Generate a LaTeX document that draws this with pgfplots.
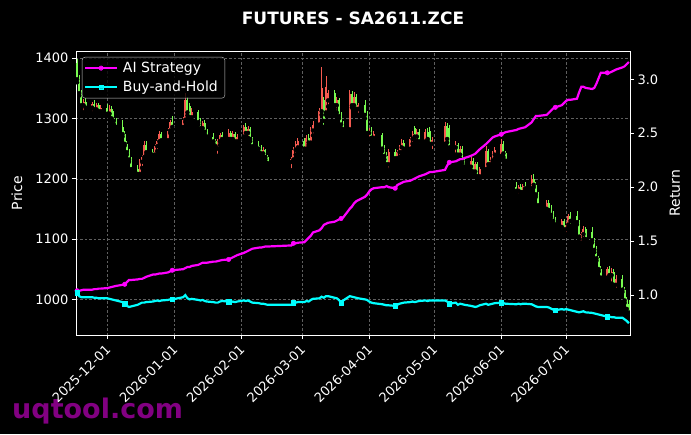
\documentclass[border=0pt]{standalone}
\usepackage{fontspec}
\setmainfont{DejaVu Sans}
\usepackage{pgfplots}
\pgfplotsset{compat=1.18}
\usepackage{pgfplotstable}

\definecolor{upc}{RGB}{245,90,80}
\definecolor{dnc}{RGB}{120,250,80}
\definecolor{gridc}{RGB}{95,95,95}
\definecolor{wm}{RGB}{130,0,130}
\definecolor{legdraw}{RGB}{200,200,200}
\definecolor{aic}{RGB}{255,0,255}
\definecolor{bhc}{RGB}{0,255,255}

\pgfplotstableread{
d o h l c ai bh
0 1392 1398 1360 1365 1.04 1.02
1 1365 1372 1338 1342 1.04 0.99
2 1342 1348 1318 1322 1.045 0.98
3 1322 1332 1310 1328 1.05 0.98
4 1328 1334 1314 1318 1.05 0.98
7 1318 1328 1308 1324 1.05 0.98
8 1324 1330 1312 1315 1.055 0.975
9 1315 1326 1310 1322 1.055 0.975
10 1322 1325 1308 1312 1.06 0.97
11 1312 1322 1306 1318 1.06 0.97
14 1318 1324 1305 1308 1.065 0.97
15 1308 1322 1302 1316 1.07 0.965
16 1316 1320 1296 1300 1.075 0.96
17 1300 1312 1290 1296 1.08 0.955
18 1296 1300 1282 1286 1.085 0.95
21 1286 1298 1270 1274 1.095 0.935
22 1274 1280 1255 1258 1.10 0.92
23 1258 1262 1240 1244 1.12 0.90
24 1244 1250 1228 1232 1.14 0.89
25 1232 1236 1212 1216 1.14 0.895
28 1216 1222 1203 1208 1.145 0.91
29 1208 1232 1204 1228 1.15 0.92
30 1228 1240 1218 1236 1.15 0.93
31 1236 1262 1232 1256 1.16 0.93
32 1256 1262 1240 1244 1.17 0.935
35 1244 1250 1234 1240 1.19 0.94
36 1240 1258 1236 1254 1.19 0.945
37 1254 1266 1246 1262 1.195 0.95
38 1262 1280 1256 1274 1.20 0.945
39 1274 1278 1260 1264 1.20 0.95
42 1264 1284 1260 1280 1.21 0.955
43 1280 1298 1276 1294 1.22 0.96
44 1294 1304 1280 1286 1.23 0.96
49 1286 1302 1280 1298 1.24 0.98
50 1298 1342 1294 1330 1.25 1.00
51 1330 1336 1305 1310 1.26 0.97
52 1320 1326 1298 1302 1.26 0.96
53 1302 1318 1296 1310 1.27 0.965
56 1310 1314 1290 1294 1.28 0.955
57 1294 1300 1280 1284 1.29 0.95
58 1284 1296 1278 1292 1.30 0.955
59 1292 1298 1274 1278 1.30 0.945
60 1278 1282 1266 1270 1.30 0.94
63 1270 1276 1258 1262 1.31 0.935
64 1262 1266 1250 1254 1.31 0.93
65 1250 1266 1238 1262 1.315 0.93
66 1262 1276 1256 1272 1.32 0.94
67 1272 1278 1262 1266 1.325 0.945
70 1266 1282 1260 1276 1.33 0.94
71 1276 1280 1262 1266 1.34 0.935
72 1266 1280 1262 1274 1.35 0.94
73 1274 1278 1258 1262 1.36 0.935
74 1262 1274 1256 1270 1.37 0.94
77 1270 1290 1264 1286 1.39 0.95
78 1286 1292 1270 1276 1.40 0.945
79 1276 1288 1268 1282 1.41 0.95
80 1282 1286 1262 1266 1.42 0.94
81 1266 1270 1250 1254 1.43 0.93
84 1254 1262 1244 1250 1.44 0.925
85 1252 1256 1238 1242 1.44 0.92
86 1242 1252 1236 1248 1.445 0.92
87 1248 1250 1232 1236 1.45 0.915
88 1236 1240 1222 1226 1.45 0.91
99 1228 1236 1214 1232 1.46 0.91
100 1232 1252 1228 1248 1.48 0.93
101 1248 1262 1240 1258 1.48 0.93
102 1252 1268 1248 1262 1.485 0.935
105 1262 1268 1246 1250 1.49 0.935
106 1250 1272 1248 1268 1.51 0.945
107 1268 1274 1256 1260 1.53 0.94
108 1260 1286 1256 1280 1.55 0.955
109 1280 1296 1272 1290 1.58 0.965
112 1290 1318 1286 1312 1.60 0.97
113 1312 1386 1306 1350 1.62 0.985
114 1330 1336 1286 1296 1.65 0.975
115 1310 1370 1306 1352 1.66 0.99
116 1330 1348 1320 1342 1.67 0.99
119 1342 1348 1316 1322 1.68 0.975
120 1322 1336 1310 1330 1.69 0.97
121 1330 1334 1300 1304 1.70 0.955
122 1304 1310 1284 1290 1.71 0.93
123 1290 1296 1276 1282 1.72 0.95
126 1282 1348 1278 1340 1.80 0.99
127 1340 1346 1318 1322 1.82 0.985
128 1322 1344 1316 1336 1.85 0.98
129 1336 1340 1312 1316 1.87 0.975
130 1316 1326 1306 1322 1.88 0.97
133 1322 1330 1300 1306 1.91 0.96
134 1306 1312 1270 1276 1.93 0.955
135 1276 1284 1266 1280 1.96 0.94
136 1280 1286 1262 1268 1.98 0.93
137 1268 1280 1262 1274 1.99 0.925
141 1272 1276 1246 1250 2.00 0.915
142 1250 1256 1232 1238 2.00 0.91
143 1238 1244 1218 1224 2.01 0.905
144 1224 1250 1214 1244 2.00 0.905
147 1244 1250 1228 1234 1.99 0.90
148 1234 1248 1228 1244 2.02 0.91
149 1244 1256 1236 1252 2.03 0.92
150 1252 1266 1244 1260 2.04 0.925
151 1260 1264 1246 1250 2.05 0.93
154 1250 1270 1246 1266 2.06 0.935
155 1266 1280 1258 1274 2.07 0.94
156 1284 1288 1264 1270 2.08 0.935
157 1270 1282 1262 1278 2.09 0.94
158 1278 1282 1256 1262 2.10 0.945
161 1262 1282 1258 1278 2.12 0.95
162 1278 1284 1262 1266 2.13 0.945
163 1280 1286 1254 1258 2.14 0.95
164 1258 1270 1246 1264 2.14 0.95
170 1258 1294 1254 1288 2.16 0.95
171 1288 1292 1260 1266 2.20 0.94
172 1284 1290 1246 1252 2.23 0.92
175 1252 1262 1240 1256 2.24 0.93
176 1256 1260 1236 1240 2.25 0.91
177 1240 1254 1234 1250 2.26 0.92
178 1250 1254 1226 1230 2.26 0.915
179 1230 1236 1214 1220 2.27 0.91
182 1220 1236 1214 1230 2.29 0.90
183 1230 1234 1208 1212 2.30 0.895
184 1212 1228 1206 1224 2.31 0.89
185 1224 1228 1200 1204 2.33 0.895
186 1204 1220 1198 1216 2.35 0.905
189 1216 1254 1210 1246 2.40 0.92
190 1246 1250 1218 1224 2.42 0.91
191 1224 1236 1218 1230 2.44 0.915
192 1230 1246 1224 1240 2.46 0.92
193 1240 1252 1234 1248 2.47 0.925
196 1238 1266 1234 1258 2.49 0.93
197 1258 1262 1236 1242 2.50 0.925
198 1242 1246 1226 1230 2.51 0.92
203 1186 1194 1174 1180 2.53 0.915
204 1180 1190 1172 1186 2.54 0.92
205 1186 1192 1176 1178 2.545 0.915
206 1178 1192 1174 1188 2.55 0.92
207 1188 1194 1180 1184 2.555 0.92
210 1184 1206 1180 1200 2.60 0.915
211 1200 1208 1186 1190 2.63 0.905
212 1190 1194 1170 1174 2.66 0.895
213 1174 1178 1152 1156 2.66 0.89
217 1150 1164 1146 1160 2.67 0.89
218 1160 1164 1144 1148 2.69 0.885
219 1148 1156 1136 1140 2.71 0.875
220 1140 1146 1126 1130 2.73 0.865
221 1130 1136 1120 1124 2.74 0.86
224 1120 1134 1114 1130 2.76 0.87
225 1130 1134 1110 1116 2.78 0.865
226 1116 1128 1108 1124 2.80 0.87
227 1124 1142 1120 1138 2.81 0.865
228 1138 1144 1122 1130 2.81 0.86
231 1138 1146 1124 1128 2.82 0.845
232 1128 1132 1100 1104 2.88 0.84
233 1094 1112 1088 1108 2.93 0.845
234 1108 1122 1100 1116 2.93 0.85
235 1116 1120 1096 1100 2.92 0.84
238 1112 1120 1094 1098 2.91 0.835
239 1098 1102 1078 1082 2.92 0.83
240 1082 1088 1064 1068 2.96 0.825
241 1068 1072 1046 1050 3.01 0.82
242 1050 1056 1032 1036 3.06 0.815
245 1036 1054 1032 1050 3.06 0.80
246 1050 1056 1036 1040 3.06 0.80
247 1040 1052 1026 1046 3.07 0.795
248 1046 1050 1018 1024 3.08 0.795
249 1024 1040 1016 1034 3.09 0.79
252 1034 1040 1012 1016 3.11 0.79
253 1016 1020 994 998 3.12 0.775
254 998 1004 978 984 3.14 0.76
255 992 998 972 978 3.16 0.74
}\data

\begin{document}
\begin{tikzpicture}
\fill[black] (-76pt,-99pt) rectangle (615pt,335pt);
\node[anchor=base west, text=wm, font=\bfseries\fontsize{27}{30}\selectfont, inner sep=0pt] at (-64pt,-83pt) {uqtool.com};
\begin{axis}[
  at={(0pt,0pt)}, anchor=south west,
  scale only axis, width=554pt, height=284pt,
  xmin=-0.5, xmax=255.5, ymin=940.7, ymax=1412,
  axis line style={white, line width=0.8pt},
  xtick={14,45,76,104,135,165,196,226},
  xticklabels={2025-12-01,2026-01-01,2026-02-01,2026-03-01,2026-04-01,2026-05-01,2026-06-01,2026-07-01},
  ytick={1000,1100,1200,1300,1400},
  xtick pos=bottom, ytick pos=left,
  tick align=outside, major tick length=4pt,
  tick style={white, line width=0.8pt},
  tick label style={white, font=\fontsize{13}{15}\selectfont},
  xticklabel style={rotate=45, anchor=north east, inner sep=1pt, xshift=-4pt},
  /pgf/number format/assume math mode=true,
  /pgf/number format/1000 sep={},
  grid=major, grid style={gridc, dash pattern=on 2.5pt off 2pt, line width=0.4pt},
  ylabel={Price},
  ylabel style={white, font=\fontsize{14}{16}\selectfont, at={(axis description cs:-0.1065,0.5)}, anchor=center},
]
% wicks up
\addplot[only marks, mark=none, forget plot,
  restrict expr to domain={\thisrow{c}-\thisrow{o}}{0:1000},
  error bars/.cd, y dir=plus, y explicit, error mark=none,
  error bar style={upc, line width=0.8pt}]
  table[x=d, y=l, y error plus expr=\thisrow{h}-\thisrow{l}] {\data};
% bodies up
\addplot[only marks, mark=none, forget plot,
  restrict expr to domain={\thisrow{c}-\thisrow{o}}{0:1000},
  error bars/.cd, y dir=plus, y explicit, error mark=none,
  error bar style={upc, line width=2pt}]
  table[x=d, y=o, y error plus expr=\thisrow{c}-\thisrow{o}] {\data};
% wicks down
\addplot[only marks, mark=none, forget plot,
  restrict expr to domain={\thisrow{c}-\thisrow{o}}{-1000:-0.5},
  error bars/.cd, y dir=plus, y explicit, error mark=none,
  error bar style={dnc, line width=0.8pt}]
  table[x=d, y=l, y error plus expr=\thisrow{h}-\thisrow{l}] {\data};
% bodies down
\addplot[only marks, mark=none, forget plot,
  restrict expr to domain={\thisrow{c}-\thisrow{o}}{-1000:-0.5},
  error bars/.cd, y dir=plus, y explicit, error mark=none,
  error bar style={dnc, line width=2pt}]
  table[x=d, y=c, y error plus expr=\thisrow{o}-\thisrow{c}] {\data};
\end{axis}
\begin{axis}[
  at={(0pt,0pt)}, anchor=south west,
  scale only axis, width=554pt, height=284pt,
  xmin=-0.5, xmax=255.5, ymin=0.630, ymax=3.262,
  axis x line=none, axis y line*=right,
  axis line style={white, line width=0.8pt},
  ytick={1.0,1.5,2.0,2.5,3.0},
  tick align=outside, major tick length=4pt,
  tick style={white, line width=0.8pt},
  tick label style={white, font=\fontsize{13}{15}\selectfont},
  /pgf/number format/assume math mode=true,
  yticklabel style={/pgf/number format/.cd, fixed, fixed zerofill, precision=1},
  ylabel={Return},
  ylabel style={white, font=\fontsize{14}{16}\selectfont, at={(axis description cs:1.0812,0.5)}, anchor=center},
  legend style={fill=black, fill opacity=0.8, text opacity=1, draw=legdraw, draw opacity=1,
    rounded corners=3pt, text=white, font=\fontsize{14}{16}\selectfont,
    at={(axis description cs:0.0108,0.979)}, anchor=north west,
    inner xsep=2pt, inner ysep=3pt, row sep=3pt,
    nodes={inner xsep=5pt, inner ysep=2pt}},
  legend cell align=left,
  legend image code/.code={\draw[#1, line width=1.8pt, mark repeat=2, mark phase=2] plot coordinates {(0pt,0pt) (16pt,0pt) (32pt,0pt)};},
]
\addplot[color=aic, line width=2.2pt, mark=*, mark size=2.2pt, mark repeat=16, mark options={solid, fill=aic, line width=0.5pt}]
  table[x=d, y=ai] {\data};
\addlegendentry{AI Strategy}
\addplot[color=bhc, line width=2.2pt, mark=square*, mark size=2.2pt, mark repeat=16, mark options={solid, fill=bhc, line width=0.5pt}]
  table[x=d, y=bh] {\data};
\addlegendentry{Buy-and-Hold}
\end{axis}
\node[font=\bfseries\fontsize{17}{20}\selectfont, text=white] at (277pt,317pt) {FUTURES - SA2611.ZCE};
\pgfresetboundingbox
\useasboundingbox (-76pt,-99pt) rectangle (615pt,335pt);
\end{tikzpicture}
\end{document}
